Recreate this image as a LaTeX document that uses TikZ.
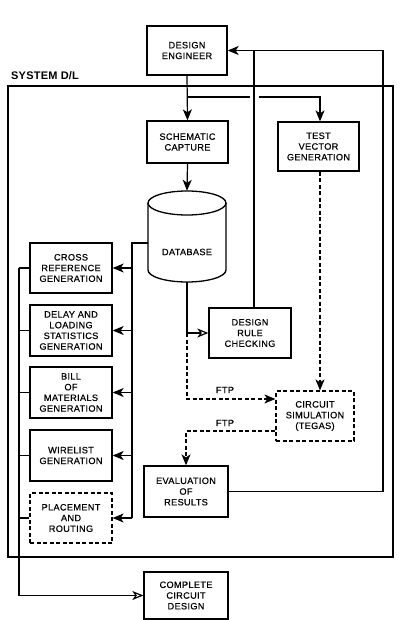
\documentclass[tikz,border=0pt]{standalone}
\usepackage{fontspec}
\setmainfont{Liberation Sans}
\usetikzlibrary{arrows.meta,calc}
\newcommand{\boxfont}{\fontsize{9.2}{10.7}\selectfont\addfontfeatures{LetterSpace=3.5,FakeBold=0.5}}
\begin{document}
\begin{tikzpicture}[x=1pt,y=-1pt,
  box/.style={draw, line width=1.3pt, align=center, inner sep=0pt, font=\boxfont},
  dbox/.style={box, line width=1.2pt, dash pattern=on 4pt off 2.5pt},
  conn/.style={line width=1.2pt},
  dconn/.style={line width=1.2pt, dash pattern=on 4pt off 2.5pt},
  arr/.style={-{Stealth[length=11pt,width=9pt,inset=3pt]}},
  oarr/.style={-{Stealth[open,length=11pt,width=9pt,inset=3pt,line width=1.2pt]}},
  lbl/.style={font=\boxfont, inner sep=0pt}]
\useasboundingbox (0,0) rectangle (402,620);
% system frame
\draw[line width=2.4pt] (8,86) rectangle (393,557);
\node[anchor=west, font=\bfseries\fontsize{11}{13}\selectfont\addfontfeatures{LetterSpace=2}, inner sep=0pt] (sys) at (11,76) {SYSTEM D/L};
% boxes
\node[box, minimum width=80pt, minimum height=49pt] (de) at (187,50.5) {DESIGN\\ENGINEER};
\node[box, minimum width=81pt, minimum height=42pt] (sc) at (187.5,142) {SCHEMATIC\\CAPTURE};
\node[box, minimum width=81pt, minimum height=49pt] (tvg) at (318.5,146.5) {TEST\\VECTOR\\GENERATION};
\node[minimum width=78pt, minimum height=91pt, inner sep=0pt] (db) at (187,236.5) {};
\draw[line width=1.3pt] (148,203) -- (148,270) arc[start angle=180, end angle=360, x radius=39pt, y radius=12pt] -- (226,203);
\draw[line width=1.3pt] (187,203) ellipse [x radius=39pt, y radius=12pt];
\node[lbl] (dbt) at (187,252) {DATABASE};
\node[box, minimum width=82pt, minimum height=50pt] (cr) at (71,268) {CROSS\\REFERENCE\\GENERATION};
\node[box, minimum width=82pt, minimum height=51pt] (dl) at (71,330.5) {DELAY AND\\LOADING\\STATISTICS\\GENERATION};
\node[box, minimum width=82pt, minimum height=51pt] (bom) at (71,392.5) {BILL\\OF\\MATERIALS\\GENERATION};
\node[box, minimum width=82pt, minimum height=51pt] (wl) at (71,455.5) {WIRELIST\\GENERATION};
\node[dbox, minimum width=82pt, minimum height=50pt] (pr) at (71,518) {PLACEMENT\\AND\\ROUTING};
\node[box, minimum width=82pt, minimum height=50pt] (drc) at (250,333) {DESIGN\\RULE\\CHECKING};
\node[dbox, minimum width=78pt, minimum height=50pt] (sim) at (315,416) {CIRCUIT\\SIMULATION\\(TEGAS)};
\node[box, minimum width=84pt, minimum height=51pt] (ev) at (186,491.5) {EVALUATION\\OF\\RESULTS};
\node[box, minimum width=84pt, minimum height=47pt] (ccd) at (186,595.5) {COMPLETE\\CIRCUIT\\DESIGN};
% coordinates
\coordinate (br) at (187,97);
\coordinate (gapL) at (249.5,97);
\coordinate (gapR) at (258.5,97);
\coordinate (dbl) at (148,243);
\coordinate (bus) at (132,243);
\coordinate (lbus) at (19,268);
\coordinate (fbc) at (383,50.5);
\coordinate (tvgn) at ($(tvg.north)+(1.5,0)$);
\coordinate (tvgs) at ($(tvg.south)+(1.5,0)$);
\coordinate (drcn) at ($(drc.north)+(4,0)$);
\coordinate (simin) at ($(sim.west)+(0,-17)$);
\coordinate (simout) at ($(sim.west)+(0,15)$);
% design engineer flows
\draw[conn,arr] (de.south) -- (sc.north);
\draw[conn] (br) -- (gapL);
\draw[conn,arr] (gapR) -| (tvgn);
\draw[conn,arr] (sc.south) -- (db.north);
% database to left bus
\draw[conn] (dbl) -- (bus) -- (bus |- pr.east);
\foreach \b in {cr,dl,bom,wl,pr}{\draw[conn,arr] (bus |- \b.east) -- (\b.east);}
% left output bus
\foreach \b in {cr,dl,bom,wl,pr}{\draw[conn] (\b.west) -- (lbus |- \b.west);}
\draw[conn] (lbus) -- (lbus |- ccd.west);
\draw[conn,oarr] (lbus |- ccd.west) -- (ccd.west);
% database to DRC and simulation
\draw[conn,oarr] (db.south) |- (drc.west);
\draw[dconn,arr] (db.south |- drc.west) |- (simin);
\node[lbl] (ftp1) at (225,390) {FTP};
\draw[dconn,arr] (tvgs) -- (tvgs |- sim.north);
\draw[dconn,arr] (simout) -| (ev.north);
\node[lbl] (ftp2) at (225,423) {FTP};
% feedback
\draw[conn,arr] (ev.east) -| (fbc) -- (de.east);
\draw[conn] (drcn) -- (drcn |- fbc);
\end{tikzpicture}
\end{document}
